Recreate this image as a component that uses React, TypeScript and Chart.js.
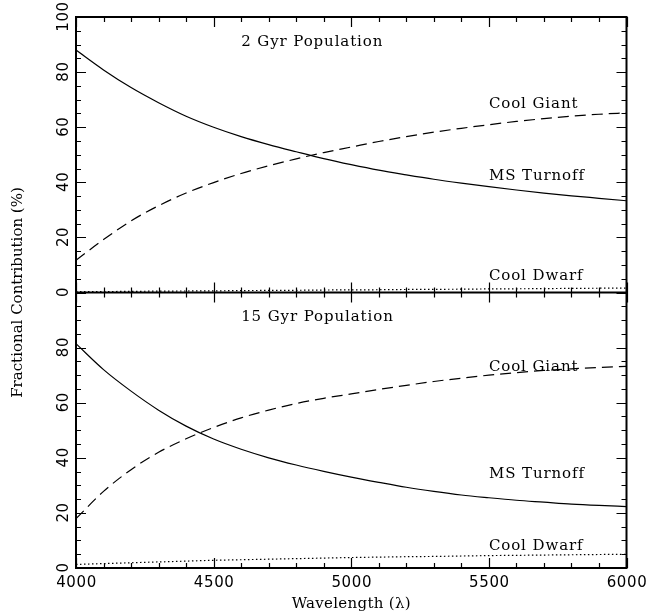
import React, { useEffect, useRef } from "react";
import { Chart, registerables } from "chart.js";

Chart.register(...registerables);

// ---- data ----
const wavelength = [4000, 4100, 4200, 4300, 4400, 4500, 4600, 4700, 4800, 4900, 5000, 5100, 5200, 5300, 5400, 5500, 5600, 5700, 5800, 5900, 6000];

const msTurnoff2Gyr = [88.0, 80.8, 74.4, 68.9, 64.0, 60.0, 56.6, 53.7, 51.1, 48.6, 46.4, 44.4, 42.7, 41.1, 39.7, 38.4, 37.2, 36.1, 35.1, 34.2, 33.3];
const coolGiant2Gyr = [11.7, 19.2, 26.0, 31.5, 36.1, 39.9, 43.2, 46.0, 48.5, 50.8, 52.8, 54.8, 56.6, 58.2, 59.6, 60.9, 62.1, 63.1, 64.0, 64.7, 65.2];
const coolDwarf2Gyr = [0.3, 0.35, 0.4, 0.5, 0.55, 0.6, 0.7, 0.75, 0.8, 0.9, 0.95, 1.0, 1.1, 1.15, 1.2, 1.3, 1.35, 1.4, 1.5, 1.55, 1.6];

const msTurnoff15Gyr = [81.4, 72.0, 64.2, 57.3, 51.5, 46.8, 43.1, 40.0, 37.4, 35.1, 33.0, 31.1, 29.3, 27.8, 26.5, 25.5, 24.6, 23.9, 23.2, 22.7, 22.3];
const coolGiant15Gyr = [17.9, 27.8, 35.7, 42.0, 46.9, 51.0, 54.5, 57.3, 59.7, 61.6, 63.2, 64.8, 66.3, 67.7, 68.9, 70.0, 70.9, 71.7, 72.3, 72.8, 73.2];
const coolDwarf15Gyr = [1.3, 1.6, 1.9, 2.2, 2.5, 2.8, 3.0, 3.2, 3.4, 3.6, 3.8, 3.95, 4.1, 4.2, 4.35, 4.5, 4.6, 4.7, 4.8, 4.9, 5.0];

// axes
const xRange = [4000, 6000];
const xMajorStep = 500;
const xMinorPerMajor = 5;
const yRange = [0, 100];
const yMajorStep = 20;
const yMinorPerMajor = 4;

// text
const panelTitles = ["2 Gyr Population", "15 Gyr Population"];
const seriesNames = ["Cool Giant", "MS Turnoff", "Cool Dwarf"];
const xAxisTitle = "Wavelength (\u03bb)";
const yAxisTitle = "Fractional Contribution (%)";

// annotation anchors (data units)
const titleWavelength = 4600;
const titlePercent = 89.5;
const nameWavelength = 5500;
const namePercent2Gyr = [67.0, 40.8, 4.5];
const namePercent15Gyr = [71.5, 32.7, 6.5];

const NUM_FONT = '15px "DejaVu Sans"';
const TXT_FONT = '15px "DejaVu Serif"';

const pts = (vals: number[]) => wavelength.map((w, i) => ({ x: w, y: vals[i] }));

const lineStyle = (dash: number[]) => ({
  borderColor: "#000",
  borderWidth: 1.2,
  borderDash: dash,
  pointRadius: 0,
  fill: false,
  cubicInterpolationMode: "monotone" as const,
});

const DASHED = [11, 6];
const DOTTED = [1.5, 2.5];
const SOLID: number[] = [];

function tickValues(scale: any, step: number, nMinor: number, min: number, max: number) {
  let majors: number[] = (scale.ticks || []).map((t: any) => t.value);
  if (!majors.length) {
    majors = [];
    for (let v = min; v <= max + 1e-9; v += step) majors.push(v);
  }
  const all: { v: number; major: boolean }[] = [];
  for (let i = 0; i < majors.length; i++) {
    all.push({ v: majors[i], major: true });
    if (i < majors.length - 1) {
      const d = (majors[i + 1] - majors[i]) / nMinor;
      for (let k = 1; k < nMinor; k++) all.push({ v: majors[i] + k * d, major: false });
    }
  }
  return { majors, all };
}

const framePlugin = {
  id: "pgframe",
  afterDraw(chart: any) {
    const ctx = chart.ctx as CanvasRenderingContext2D;
    const xs = chart.scales.x;
    const panels = [chart.scales.yTop, chart.scales.yBot];
    const L = xs.left;
    const R = xs.right;
    const top = Math.min(panels[0].top, panels[1].top);
    const bottom = Math.max(panels[0].bottom, panels[1].bottom);
    const upper = panels[0].top < panels[1].top ? panels[0] : panels[1];

    ctx.save();
    ctx.strokeStyle = "#000";
    ctx.fillStyle = "#000";

    // ticks
    ctx.lineWidth = 1.2;
    const xt = tickValues(xs, xMajorStep, xMinorPerMajor, xRange[0], xRange[1]);
    ctx.beginPath();
    for (const p of panels) {
      for (const t of xt.all) {
        const px = Math.round(xs.getPixelForValue(t.v)) + 0.5;
        const len = t.major ? 10 : 5;
        ctx.moveTo(px, p.top);
        ctx.lineTo(px, p.top + len);
        ctx.moveTo(px, p.bottom);
        ctx.lineTo(px, p.bottom - len);
      }
      const yt = tickValues(p, yMajorStep, yMinorPerMajor, yRange[0], yRange[1]);
      for (const t of yt.all) {
        const py = Math.round(p.getPixelForValue(t.v)) + 0.5;
        const len = t.major ? 10 : 5;
        ctx.moveTo(L, py);
        ctx.lineTo(L + len, py);
        ctx.moveTo(R, py);
        ctx.lineTo(R - len, py);
      }
    }
    ctx.stroke();

    // frame
    ctx.lineWidth = 2;
    ctx.beginPath();
    ctx.rect(L, top, R - L, bottom - top);
    ctx.moveTo(L, upper.bottom);
    ctx.lineTo(R, upper.bottom);
    ctx.stroke();

    // y tick labels (rotated)
    ctx.font = NUM_FONT;
    (ctx as any).letterSpacing = "0.6px";
    ctx.textAlign = "center";
    ctx.textBaseline = "alphabetic";
    for (const p of panels) {
      const yt = tickValues(p, yMajorStep, yMinorPerMajor, yRange[0], yRange[1]);
      for (const v of yt.majors) {
        if (p !== upper && v === yRange[1]) continue;
        const py = p.getPixelForValue(v);
        ctx.save();
        ctx.translate(L - 8, py);
        ctx.rotate(-Math.PI / 2);
        ctx.fillText(String(v), 0.5, 0);
        ctx.restore();
      }
    }

    // x tick labels
    for (const v of xt.majors) {
      ctx.fillText(String(v), xs.getPixelForValue(v) + 0.5, bottom + 19);
    }

    // axis titles
    ctx.font = TXT_FONT;
    (ctx as any).letterSpacing = "0.3px";
    ctx.fillText(xAxisTitle, (L + R) / 2, bottom + 40);
    ctx.save();
    ctx.translate(22, (top + bottom) / 2);
    ctx.rotate(-Math.PI / 2);
    (ctx as any).letterSpacing = "0px";
    ctx.fillText(yAxisTitle, 0, 0);
    ctx.restore();

    // annotations
    (ctx as any).letterSpacing = "0.9px";
    ctx.textAlign = "left";
    const namePercents = [namePercent2Gyr, namePercent15Gyr];
    const panelScales = [chart.scales.yTop, chart.scales.yBot];
    panelScales.forEach((p: any, i: number) => {
      ctx.fillText(panelTitles[i], xs.getPixelForValue(titleWavelength), p.getPixelForValue(titlePercent));
      seriesNames.forEach((name, j) => {
        ctx.fillText(name, xs.getPixelForValue(nameWavelength), p.getPixelForValue(namePercents[i][j]));
      });
    });

    ctx.restore();
  },
};

export default function App() {
  const ref = useRef<HTMLCanvasElement | null>(null);

  useEffect(() => {
    if (!ref.current) return;
    const hiddenY = (weight: number) => ({
      type: "linear" as const,
      position: "left" as const,
      stack: "panels",
      stackWeight: 1,
      weight,
      min: yRange[0],
      max: yRange[1],
      display: false,
      ticks: { stepSize: yMajorStep },
    });
    const chart = new Chart(ref.current, {
      type: "line",
      data: {
        datasets: [
          { label: seriesNames[0], data: pts(coolGiant2Gyr), yAxisID: "yTop", ...lineStyle(DASHED) },
          { label: seriesNames[1], data: pts(msTurnoff2Gyr), yAxisID: "yTop", ...lineStyle(SOLID) },
          { label: seriesNames[2], data: pts(coolDwarf2Gyr), yAxisID: "yTop", ...lineStyle(DOTTED) },
          { label: seriesNames[0], data: pts(coolGiant15Gyr), yAxisID: "yBot", ...lineStyle(DASHED) },
          { label: seriesNames[1], data: pts(msTurnoff15Gyr), yAxisID: "yBot", ...lineStyle(SOLID) },
          { label: seriesNames[2], data: pts(coolDwarf15Gyr), yAxisID: "yBot", ...lineStyle(DOTTED) },
        ] as any,
      },
      options: {
        animation: false,
        responsive: false,
        maintainAspectRatio: false,
        devicePixelRatio: 1,
        events: [],
        layout: { padding: { left: 76, right: 20.5, top: 17, bottom: 46 } },
        plugins: { legend: { display: false }, tooltip: { enabled: false } },
        scales: {
          x: {
            type: "linear",
            min: xRange[0],
            max: xRange[1],
            display: false,
            ticks: { stepSize: xMajorStep },
          },
          yTop: hiddenY(1),
          yBot: hiddenY(0),
        } as any,
      },
      plugins: [framePlugin],
    });
    return () => chart.destroy();
  }, []);

  return (
    <div style={{ position: "fixed", left: 0, top: 0, width: 647, height: 614, background: "#fff" }}>
      <canvas ref={ref} width={647} height={614} style={{ display: "block" }} />
    </div>
  );
}
